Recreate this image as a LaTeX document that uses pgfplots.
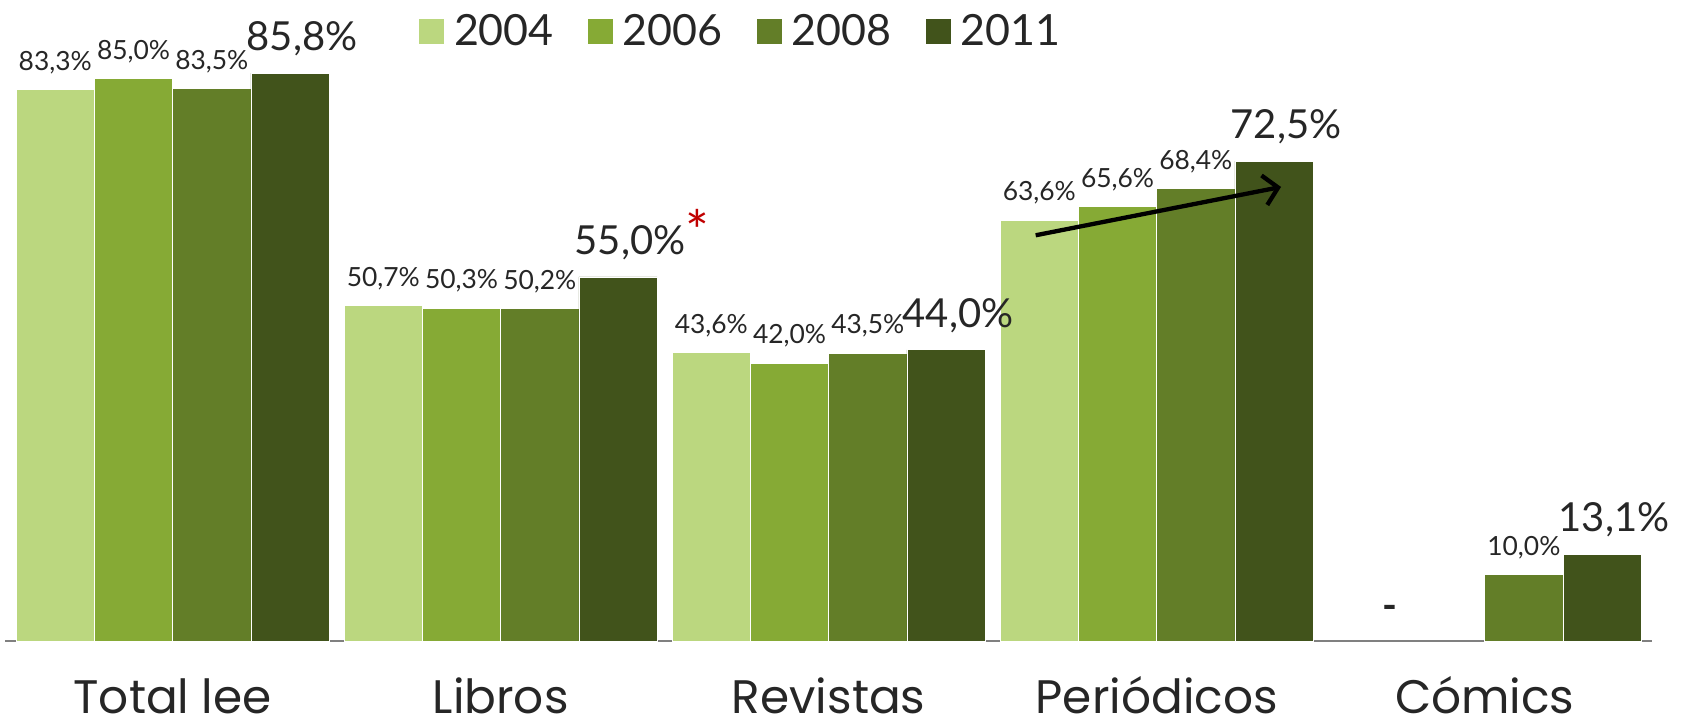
\documentclass[border=0pt]{standalone}
\usepackage{fontspec}
\setmainfont{Lato}
\newfontfamily\catfont{Poppins}
\usepackage{pgfplots}
\pgfplotsset{compat=1.18}
\usetikzlibrary{arrows.meta,calc}

\definecolor{c04}{RGB}{187,215,127}
\definecolor{c06}{RGB}{134,170,53}
\definecolor{c08}{RGB}{99,126,40}
\definecolor{c11}{RGB}{65,83,27}
\definecolor{txt}{RGB}{38,38,38}
\definecolor{astred}{RGB}{192,0,0}

\begin{document}
\begin{tikzpicture}
\begin{axis}[
    scale only axis,
    width=823.3pt, height=314.4pt,
    xmin=-0.51, xmax=4.51, ymin=0, ymax=95,
    enlargelimits=false,
    clip=false,
    ybar=0pt, bar width=0.2386,
    axis x line*=bottom, axis y line=none,
    axis line style={draw=gray, line width=1.1pt},
    xtick={0,1,2,3,4},
    xticklabels={Total lee,Libros,Revistas,Periódicos,Cómics},
    major tick length=0pt,
    xticklabel style={font=\catfont\fontsize{23.5}{28}\selectfont, text=txt, anchor=base, inner sep=0pt, yshift=-36.5pt},
    point meta=explicit symbolic,
    nodes near coords,
    every node near coord/.append style={font=\fontsize{13.2}{15}\selectfont, text=txt, anchor=base, inner sep=0pt, yshift=9.6pt},
    legend columns=4,
    legend style={draw=none, fill=none, at={(0.449,1.01)}, anchor=north,
        font=\fontsize{21.5}{24}\selectfont, text=txt,
        nodes={inner xsep=5pt},
        /tikz/every even column/.append style={column sep=12pt}},
    legend image code/.code={\fill[#1,draw=none] (0pt,-6.3pt) rectangle (12.6pt,6.3pt);},
]
\addplot[fill=c04, draw=white, line width=0.4pt] coordinates {
    (0,83.3) [83,3\%] (1,50.7) [50,7\%] (2,43.6) [43,6\%] (3,63.6) [63,6\%]};
\addplot[fill=c06, draw=white, line width=0.4pt] coordinates {
    (0,85.0) [85,0\%] (1,50.3) [50,3\%] (2,42.0) [42,0\%] (3,65.6) [65,6\%]};
\addplot[fill=c08, draw=white, line width=0.4pt] coordinates {
    (0,83.5) [83,5\%] (1,50.2) [50,2\%] (2,43.5) [43,5\%] (3,68.4) [68,4\%] (4,10.0) [10,0\%]};
\addplot[fill=c11, draw=white, line width=0.4pt,
    every node near coord/.append style={font=\fontsize{20}{24}\selectfont, yshift=1.7pt, xshift=6pt}] coordinates {
    (0,85.8) [85,8\%] (1,55.0) [55,0\%\rlap{\raisebox{1.5pt}{\fontsize{28}{30}\selectfont\textcolor{astred}{*}}}] (2,44.0) [44,0\%] (3,72.5) [72,5\%] (4,13.1) [13,1\%]};
\legend{2004,2006,2008,2011}

\node[font=\fontsize{20}{24}\selectfont\bfseries, text=txt] at (axis cs:3.71,4.3) {-};
\draw[line width=2.15pt, -{Straight Barb[length=7pt,width=15pt]}] (axis cs:2.631,61.3) -- (axis cs:3.379,68.6);
\coordinate (LL) at (rel axis cs:0,0);
\end{axis}
\pgfresetboundingbox
\path[use as bounding box] ($(LL)+(-2.7pt,-43pt)$) rectangle ++(841pt,363.5pt);
\end{tikzpicture}
\end{document}
